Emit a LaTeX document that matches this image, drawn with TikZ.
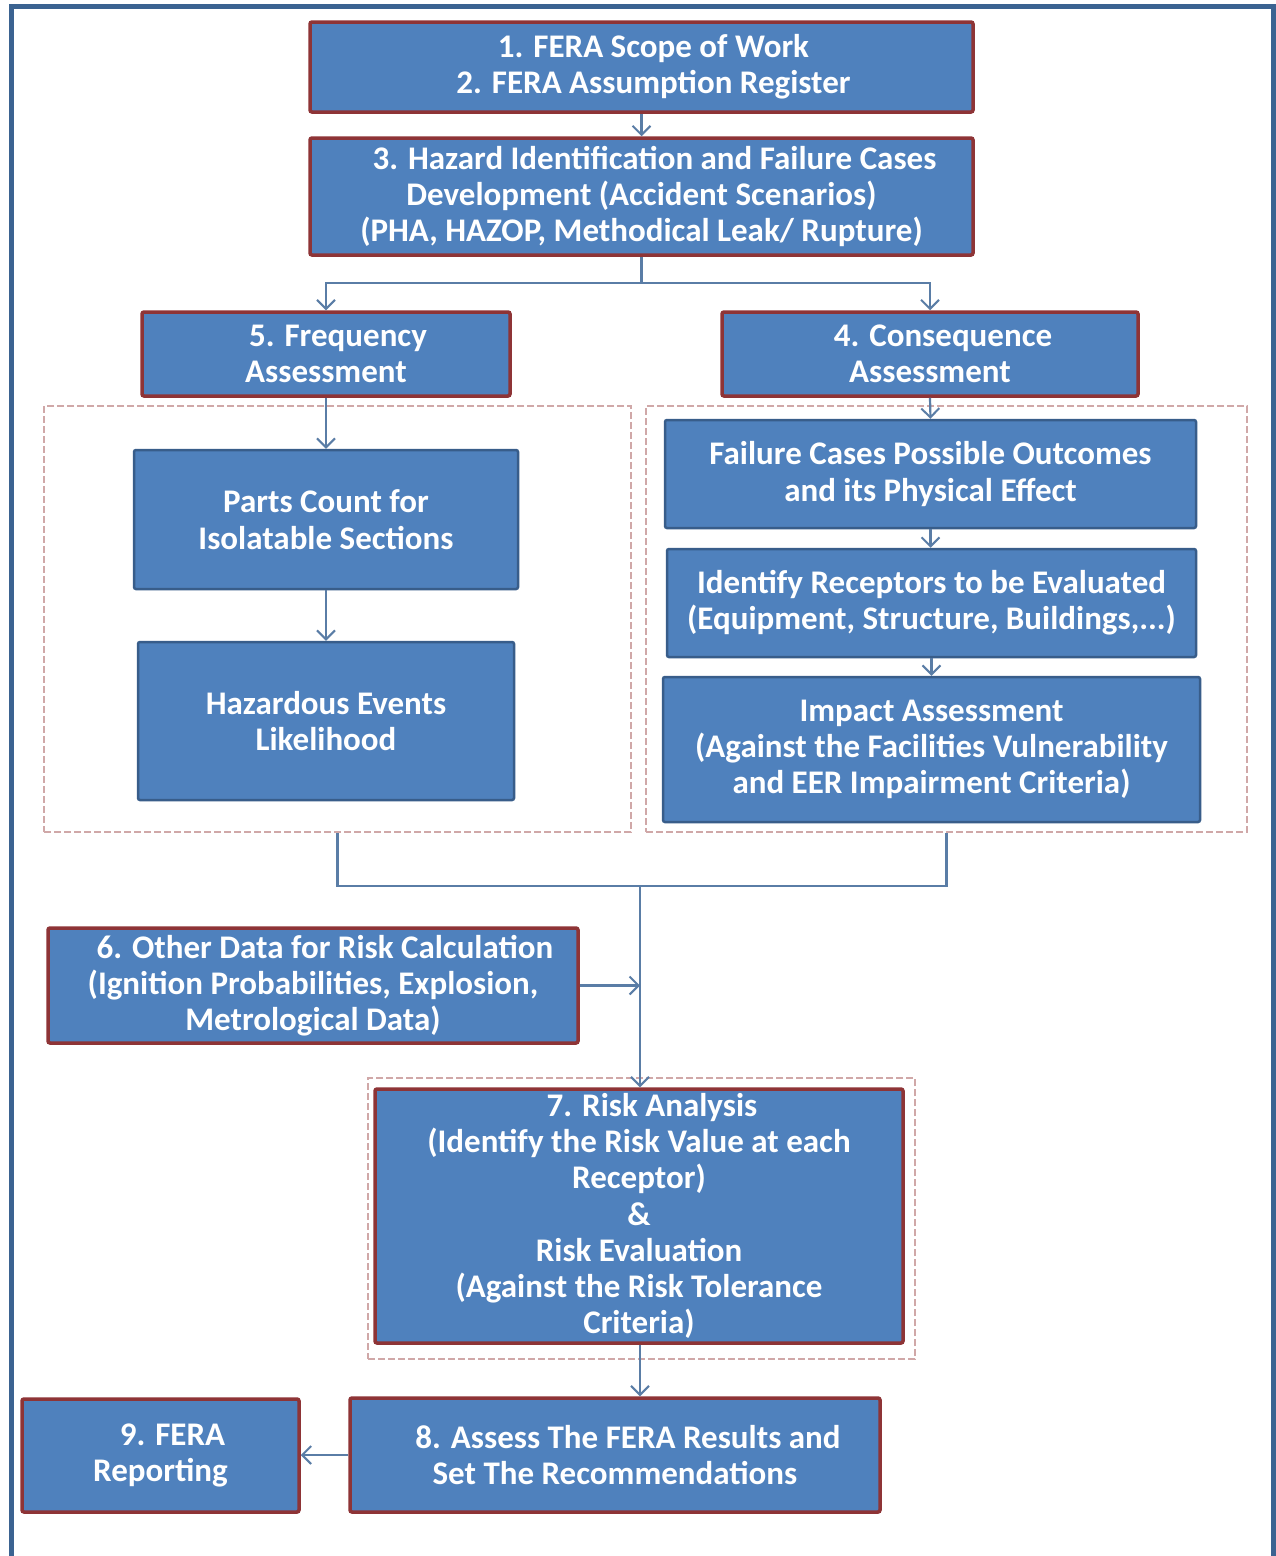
\documentclass[tikz,border=0pt]{standalone}
\usepackage{fontspec}
\setmainfont{Carlito}
\usetikzlibrary{arrows.meta}
\definecolor{boxfill}{HTML}{4F81BD}
\definecolor{boxblue}{HTML}{385D8A}
\definecolor{boxred}{HTML}{8E3436}
\definecolor{connc}{HTML}{5A7DA6}
\definecolor{dashc}{HTML}{D0A8A8}
\definecolor{framec}{HTML}{3B6391}
\newcommand{\lead}{\hspace*{24pt}}
\tikzset{
  basebox/.style={rectangle, fill=boxfill, text=white, align=center, inner sep=0pt,
    font=\fontsize{33}{36.3}\selectfont\bfseries, rounded corners=2pt},
  redbox/.style={basebox, draw=boxred, line width=3.5pt},
  bluebox/.style={basebox, draw=boxblue, line width=2.5pt},
  dashbox/.style={rectangle, draw=dashc, line width=2.5pt, dash pattern=on 7pt off 3pt, inner sep=0pt},
  conn/.style={draw=connc, line width=2.2pt},
  arr/.style={conn, -{Straight Barb[length=9pt,width=18pt,line width=2pt]}},
}
\begin{document}
\begin{tikzpicture}[x=1pt,y=-1pt]
\useasboundingbox (0,0) rectangle (1276,1556);
\fill[white] (0,0) rectangle (1276,1556);
\draw[framec, line width=5pt] (11.5,1556) -- (11.5,6.5) -- (1273,6.5) -- (1273,1556);

% dashed groups
\node[dashbox, minimum width=587pt, minimum height=426pt] (dl) at (337.5,619) {};
\node[dashbox, minimum width=601pt, minimum height=426pt] (dr) at (946.5,619) {};
\node[dashbox, minimum width=547pt, minimum height=281pt] (d7) at (641.5,1218.5) {};

% boxes
\node[redbox, minimum width=663pt, minimum height=90pt] (b12) at (641.5,67)
  {\lead1. FERA Scope of Work\\\lead2. FERA Assumption Register};
\node[redbox, minimum width=663pt, minimum height=117pt] (b3) at (641.5,196.5)
  {\hspace*{26pt}3. Hazard Identification and Failure Cases\\Development (Accident Scenarios)\\(PHA, HAZOP, Methodical Leak/ Rupture)};
\node[redbox, minimum width=368pt, minimum height=84pt] (b5) at (326,354)
  {\lead5. Frequency\\Assessment};
\node[redbox, minimum width=416pt, minimum height=84pt] (b4) at (930,354)
  {\hspace*{26pt}4. Consequence\\Assessment};
\node[bluebox, minimum width=384pt, minimum height=139pt] (parts) at (326,519.5)
  {Parts Count for\\Isolatable Sections};
\node[bluebox, minimum width=376pt, minimum height=158pt] (haz) at (326,721)
  {Hazardous Events\\Likelihood};
\node[bluebox, minimum width=531pt, minimum height=108pt] (fail) at (930.5,474)
  {Failure Cases Possible Outcomes\\and its Physical Effect};
\node[bluebox, minimum width=529pt, minimum height=108pt] (recep) at (931.5,603)
  {Identify Receptors to be Evaluated\\(Equipment, Structure, Buildings,...)};
\node[bluebox, minimum width=537pt, minimum height=145pt] (impact) at (931.5,749.5)
  {Impact Assessment\\(Against the Facilities Vulnerability\\and EER Impairment Criteria)};
\node[redbox, minimum width=530pt, minimum height=115pt] (b6) at (313,985.5)
  {\lead6. Other Data for Risk Calculation\\(Ignition Probabilities, Explosion,\\Metrological Data)};
\node[redbox, minimum width=528pt, minimum height=254pt] (b7) at (639,1216)
  {\hspace*{26pt}7. Risk Analysis\\(Identify the Risk Value at each\\Receptor)\\\&\\Risk Evaluation\\(Against the Risk Tolerance\\Criteria)};
\node[redbox, minimum width=530pt, minimum height=114pt] (b8) at (615,1455)
  {\hspace*{26pt}8. Assess The FERA Results and\\Set The Recommendations};
\node[redbox, minimum width=277pt, minimum height=113pt] (b9) at (160.5,1455.5)
  {\lead9. FERA\\Reporting};

% connectors
\draw[arr] (b12.south) -- (b3.north);
\coordinate (split) at (641.5,283);
\draw[conn] (b3.south) -- (split);
\draw[arr] (split) -| (b5.north);
\draw[arr] (split) -| (b4.north);
\draw[arr] (b5.south) -- (parts.north);
\draw[arr] (parts.south) -- (haz.north);
\draw[arr] (b4.south) -- (fail.north);
\draw[arr] (fail.south) -- (fail.south |- recep.north);
\draw[arr] (recep.south) -- (recep.south |- impact.north);
\coordinate (merge) at (640,886);
\draw[conn] (dl.south) |- (merge);
\draw[conn] (dr.south) |- (merge);
\draw[arr] (merge) -- (merge |- b7.north);
\draw[arr] (b6.east) -- (b6.east -| merge);
\draw[arr] (b7.south -| merge) -- (merge |- b8.north);
\draw[arr] (b8.west) -- (b8.west -| b9.east);
\end{tikzpicture}
\end{document}
